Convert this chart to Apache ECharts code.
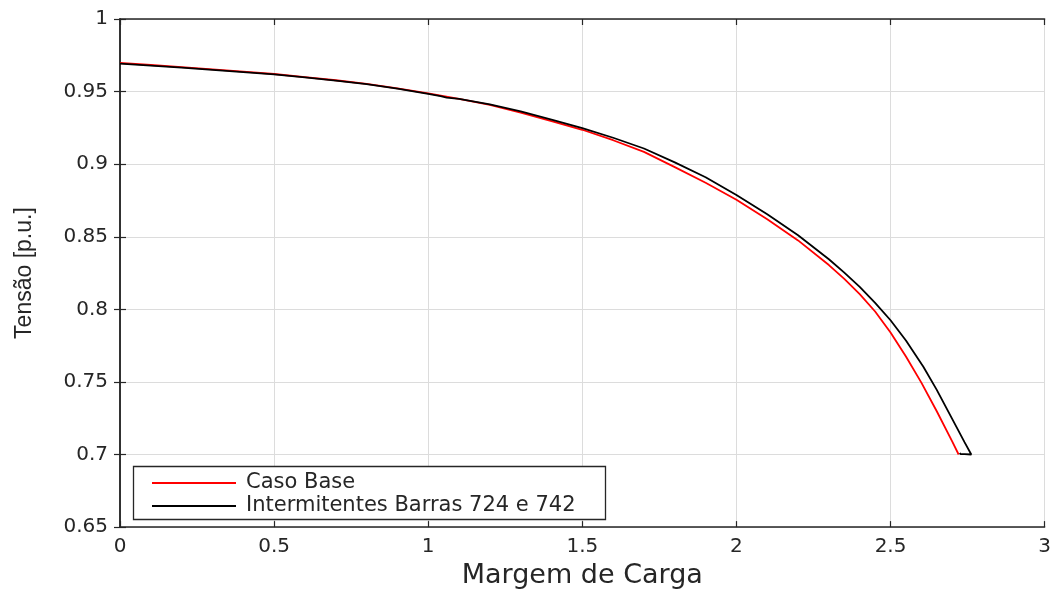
<!DOCTYPE html>
<html>
<head>
<meta charset="utf-8">
<script src="https://cdn.jsdelivr.net/npm/echarts@6/dist/echarts.min.js"></script>
<style>
  html, body { margin: 0; padding: 0; background: #fff; }
  #chart { width: 1054px; height: 594px; }
</style>
</head>
<body>
<div id="chart"></div>
<script>
// Load margin (x) and bus voltage in p.u. (y) for each case
const seriesNames = ['Caso Base', 'Intermitentes Barras 724 e 742'];

const loadBase = [0, 0.1, 0.2, 0.3, 0.4, 0.5, 0.6, 0.7, 0.8, 0.9, 1.0, 1.1, 1.2, 1.3, 1.4, 1.5,
  1.6, 1.7, 1.8, 1.9, 2.0, 2.1, 2.2, 2.3, 2.35, 2.4, 2.45, 2.5, 2.55, 2.6, 2.65, 2.7, 2.721];
const voltBase = [0.9697, 0.9683, 0.9668, 0.9653, 0.9637, 0.9621, 0.9600, 0.9578, 0.9553, 0.9522,
  0.9487, 0.9450, 0.9408, 0.9355, 0.9297, 0.9237, 0.9165, 0.9085, 0.8980, 0.8872, 0.8755,
  0.8620, 0.8475, 0.8305, 0.8210, 0.8105, 0.7985, 0.7840, 0.7675, 0.7495, 0.7298, 0.7090, 0.7000];

const loadInt = [0, 0.1, 0.2, 0.3, 0.4, 0.5, 0.6, 0.7, 0.8, 0.9, 1.0, 1.04, 1.045, 1.06, 1.1,
  1.2, 1.3, 1.4, 1.5, 1.6, 1.7, 1.8, 1.9, 2.0, 2.1, 2.2, 2.3, 2.35, 2.4, 2.45, 2.5, 2.55, 2.6,
  2.603, 2.606, 2.65, 2.7, 2.74, 2.762, 2.740, 2.727, 2.725];
const voltInt = [0.9693, 0.9679, 0.9665, 0.9650, 0.9634, 0.9618, 0.9598, 0.9576, 0.9551, 0.9520,
  0.9485, 0.9468, 0.9461, 0.9458, 0.9450, 0.9412, 0.9363, 0.9307, 0.9248, 0.9182, 0.9108,
  0.9012, 0.8910, 0.8788, 0.8655, 0.8510, 0.8345, 0.8253, 0.8155, 0.8045, 0.7925, 0.7785,
  0.7625, 0.7619, 0.7606, 0.7445, 0.7245, 0.7085, 0.7000, 0.7003, 0.7003, 0.7012];

const xTicks = { min: 0, max: 3, interval: 0.5 };
const yTicks = { min: 0.65, max: 1, interval: 0.05 };

const pairs = (xs, ys) => xs.map((x, i) => [x, ys[i]]);

const ink = '#262626';
const font = 'DejaVu Sans';

const chart = echarts.init(document.getElementById('chart'), null, { renderer: 'canvas' });

const frameAxis = {
  type: 'value',
  axisLine: { show: true, lineStyle: { color: ink, width: 1.5 } },
  axisTick: { show: true, inside: true, length: 6, lineStyle: { color: ink, width: 1.2 } },
  axisLabel: { show: false },
  splitLine: { show: false }
};

chart.setOption({
  animation: false,
  backgroundColor: '#ffffff',
  grid: { left: 120, right: 8, top: 19, bottom: 64, containLabel: false },
  xAxis: [
    {
      type: 'value', position: 'bottom',
      min: xTicks.min, max: xTicks.max, interval: xTicks.interval,
      name: 'Margem de Carga', nameLocation: 'middle', nameGap: 32,
      nameTextStyle: { color: ink, fontFamily: font, fontSize: 27 },
      axisLine: { show: true, lineStyle: { color: ink, width: 1.5 } },
      axisTick: { show: true, inside: true, length: 6, lineStyle: { color: ink, width: 1.2 } },
      axisLabel: { color: ink, fontFamily: font, fontSize: 20, margin: 10 },
      splitLine: { show: true, lineStyle: { color: '#dcdcdc', width: 1 } }
    },
    Object.assign({ position: 'top', min: xTicks.min, max: xTicks.max, interval: xTicks.interval }, frameAxis)
  ],
  yAxis: [
    {
      type: 'value', position: 'left',
      min: yTicks.min, max: yTicks.max, interval: yTicks.interval,
      name: 'Tensão [p.u.]', nameLocation: 'middle', nameGap: 84,
      nameTextStyle: { color: ink, fontFamily: 'Liberation Sans', fontSize: 23 },
      axisLine: { show: true, lineStyle: { color: ink, width: 1.5 } },
      axisTick: { show: true, inside: true, length: 6, lineStyle: { color: ink, width: 1.2 } },
      axisLabel: { color: ink, fontFamily: font, fontSize: 20, margin: 12 },
      splitLine: { show: true, lineStyle: { color: '#dcdcdc', width: 1 } }
    },
    Object.assign({ position: 'right', min: yTicks.min, max: yTicks.max, interval: yTicks.interval }, frameAxis)
  ],
  legend: {
    orient: 'vertical',
    left: 152, top: 472,
    itemWidth: 84, itemHeight: 2, itemGap: 1,
    icon: 'rect',
    padding: 0,
    textStyle: { color: ink, fontFamily: font, fontSize: 21, lineHeight: 22, padding: [0, 0, 0, 5] },
    data: seriesNames,
    z: 10
  },
  graphic: [
    {
      type: 'rect', z: 5,
      shape: { x: 133.5, y: 466.5, width: 472, height: 53 },
      style: { fill: '#ffffff', stroke: ink, lineWidth: 1.3 }
    }
  ],
  series: [
    {
      name: seriesNames[0], type: 'line',
      data: pairs(loadBase, voltBase),
      showSymbol: false, symbol: 'none',
      color: '#ff0000',
      lineStyle: { color: '#ff0000', width: 1.8 },
      z: 2
    },
    {
      name: seriesNames[1], type: 'line',
      data: pairs(loadInt, voltInt),
      showSymbol: false, symbol: 'none',
      color: '#000000',
      lineStyle: { color: '#000000', width: 1.8 },
      z: 3
    }
  ]
});
</script>
</body>
</html>
